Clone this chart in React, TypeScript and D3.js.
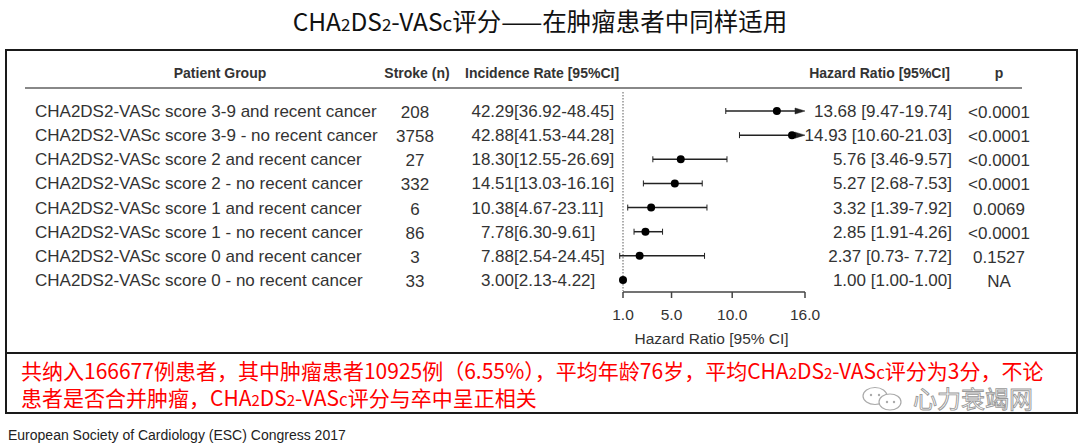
import React from 'react';
import * as d3 from 'd3';

const groups = [
  'CHA2DS2-VASc score 3-9 and recent cancer',
  'CHA2DS2-VASc score 3-9 - no recent cancer',
  'CHA2DS2-VASc score 2 and recent cancer',
  'CHA2DS2-VASc score 2 - no recent cancer',
  'CHA2DS2-VASc score 1 and recent cancer',
  'CHA2DS2-VASc score 1 - no recent cancer',
  'CHA2DS2-VASc score 0 and recent cancer',
  'CHA2DS2-VASc score 0 - no recent cancer',
];
const strokes = ['208', '3758', '27', '332', '6', '86', '3', '33'];
const incRate = ['42.29', '42.88', '18.30', '14.51', '10.38', '7.78', '7.88', '3.00'];
const incCI = ['[36.92-48.45]', '[41.53-44.28]', '[12.55-26.69]', '[13.03-16.16]', '[4.67-23.11]', '[6.30-9.61]', '[2.54-24.45]', '[2.13-4.22]'];
const hr = [13.68, 14.93, 5.76, 5.27, 3.32, 2.85, 2.37, 1.0];
const hrLo = [9.47, 10.6, 3.46, 2.68, 1.39, 1.91, 0.73, 1.0];
const hrHi = [19.74, 21.03, 9.57, 7.53, 7.92, 4.26, 7.72, 1.0];
const hrText = ['13.68 [9.47-19.74]', '14.93 [10.60-21.03]', '5.76 [3.46-9.57]', '5.27 [2.68-7.53]', '3.32 [1.39-7.92]', '2.85 [1.91-4.26]', '2.37 [0.73- 7.72]', '1.00 [1.00-1.00]'];
const pValues = ['<0.0001', '<0.0001', '<0.0001', '<0.0001', '0.0069', '<0.0001', '0.1527', 'NA'];
const xTicks = [1, 5, 10, 16];

const sans = 'Liberation Sans, Arial, sans-serif';
const cjk = '"Noto Sans CJK SC", sans-serif';

export default function App() {
  // hazard ratio scale (linear, 1 → 16)
  const x = d3.scaleLinear().domain([1, 16]).range([623, 805]);
  const y = d3.scalePoint<string>().domain(groups).range([111, 280]);
  const xMax = x.domain()[1];

  return (
    <svg width={1080} height={445} style={{ position: 'absolute', left: 0, top: 0, background: '#fff' }}>
      {/* title */}
      <text x={540} y={31} textAnchor="middle" fontFamily={cjk} fontSize={24.5} fill="#111">
        CHA<tspan fontSize={17}>2</tspan>DS<tspan fontSize={17}>2</tspan>-VAS<tspan fontSize={19}>c</tspan>评分——在肿瘤患者中同样适用
      </text>

      {/* frames */}
      <rect x={6} y={50} width={1071} height={303} fill="none" stroke="#1a1a1a" strokeWidth={2} />
      <rect x={6} y={353} width={1071} height={60} fill="none" stroke="#1a1a1a" strokeWidth={2} />

      {/* header */}
      <g fontFamily={sans} fontSize={14} fontWeight="bold" fill="#333">
        <text x={220} y={78} textAnchor="middle">Patient Group</text>
        <text x={417} y={78} textAnchor="middle">Stroke (n)</text>
        <text x={465} y={78}>Incidence Rate [95%CI]</text>
        <text x={950} y={78} textAnchor="end">Hazard Ratio [95%CI]</text>
        <text x={999} y={78} textAnchor="middle">p</text>
      </g>
      <line x1={25} x2={1022} y1={88} y2={88} stroke="#888" strokeWidth={2} />

      {/* table rows */}
      <g fontFamily={sans} fontSize={17} fill="#333">
        {groups.map((g, i) => {
          const cy = y(g)!;
          return (
            <g key={g}>
              <text x={35} y={cy + 6}>{g}</text>
              <text x={415} y={cy + 7} textAnchor="middle">{strokes[i]}</text>
              <text x={514} y={cy + 6} textAnchor="end">{incRate[i]}</text>
              <text x={514} y={cy + 6}>{incCI[i]}</text>
              <text x={952} y={cy + 6} textAnchor="end">{hrText[i]}</text>
              <text x={999} y={cy + 7} textAnchor="middle">{pValues[i]}</text>
            </g>
          );
        })}
      </g>

      {/* reference line at HR = 1 */}
      <line x1={x(1)} x2={x(1)} y1={92} y2={291} stroke="#777" strokeWidth={1.2} strokeDasharray="1.5,1.5" />

      {/* CI whiskers and point estimates */}
      <g stroke="#222" strokeWidth={1.5}>
        {groups.map((g, i) => {
          const cy = y(g)!;
          const lo = x(hrLo[i]);
          const clipped = hrHi[i] > xMax;
          const hi = x(Math.min(hrHi[i], xMax));
          if (hrLo[i] === hrHi[i]) return null;
          return (
            <g key={g}>
              <line x1={lo} x2={clipped ? hi - 6 : hi} y1={cy} y2={cy} />
              <line x1={lo} x2={lo} y1={cy - 3} y2={cy + 3} strokeWidth={1} />
              {clipped ? (
                <path d={`M${hi},${cy} L${hi - 10},${cy - 3} L${hi - 10},${cy + 3} Z`} fill="#222" strokeWidth={0.5} />
              ) : (
                <line x1={hi} x2={hi} y1={cy - 3} y2={cy + 3} strokeWidth={1} />
              )}
            </g>
          );
        })}
      </g>
      <g fill="#000">
        {groups.map((g, i) => (
          <circle key={g} cx={x(hr[i])} cy={y(g)!} r={4} />
        ))}
      </g>

      {/* axis */}
      <g stroke="#444" strokeWidth={1.5}>
        <line x1={x(1)} x2={x(16)} y1={292} y2={292} />
        {xTicks.map((t) => (
          <line key={t} x1={x(t)} x2={x(t)} y1={292} y2={298} />
        ))}
      </g>
      <g fontFamily={sans} fontSize={15.5} fill="#333" textAnchor="middle">
        {xTicks.map((t) => (
          <text key={t} x={x(t)} y={320}>{t.toFixed(1)}</text>
        ))}
        <text x={x(8.3)} y={344}>Hazard Ratio [95% CI]</text>
      </g>

      {/* note */}
      <g fontFamily={cjk} fontSize={21} fill="#ff0000">
        <text x={21} y={379}>
          共纳入166677例患者，其中肿瘤患者10925例（6.55%），平均年龄76岁，平均CHA<tspan fontSize={15}>2</tspan>DS<tspan fontSize={15}>2</tspan>-VAS<tspan fontSize={17}>c</tspan>评分为3分，不论
        </text>
        <text x={21} y={406}>
          患者是否合并肿瘤，CHA<tspan fontSize={15}>2</tspan>DS<tspan fontSize={15}>2</tspan>-VAS<tspan fontSize={17}>c</tspan>评分与卒中呈正相关
        </text>
      </g>

      {/* watermark */}
      <g fill="none" stroke="#aaa" strokeWidth={1.2}>
        <ellipse cx={875} cy={396} rx={12} ry={8.5} />
        <ellipse cx={890} cy={402} rx={11} ry={8} fill="#fff" />
      </g>
      <g fill="#aaa">
        <circle cx={871} cy={395} r={1.2} />
        <circle cx={879} cy={395} r={1.2} />
        <circle cx={887} cy={402} r={1.2} />
        <circle cx={894} cy={402} r={1.2} />
      </g>
      <text x={913} y={408} fontFamily={cjk} fontSize={24} fill="#fff" stroke="#999" strokeWidth={0.9}>心力衰竭网</text>

      {/* footer */}
      <text x={8} y={440} fontFamily={sans} fontSize={14} fill="#222">European Society of Cardiology (ESC) Congress 2017</text>
    </svg>
  );
}
